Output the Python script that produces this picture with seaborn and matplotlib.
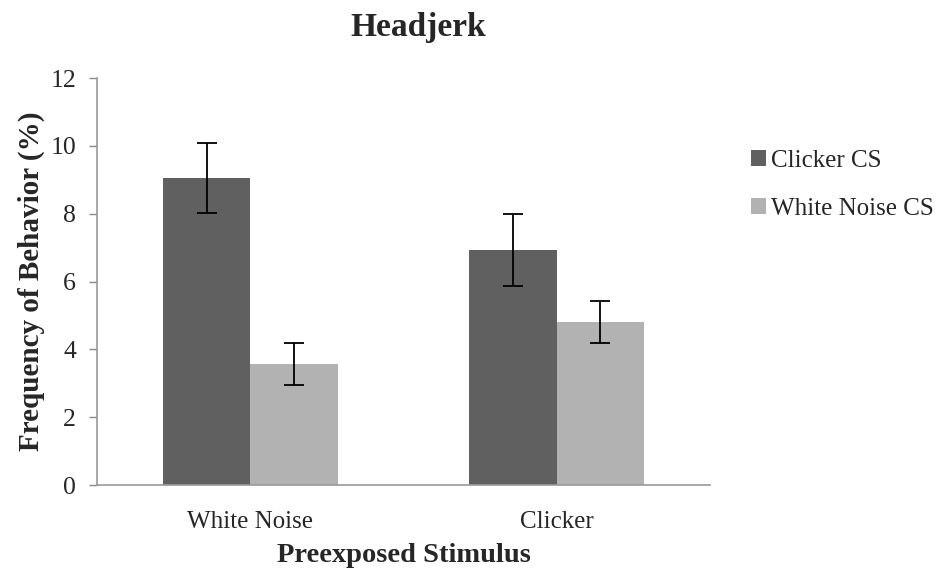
import matplotlib
matplotlib.use("Agg")
import matplotlib.pyplot as plt
import seaborn as sns
import pandas as pd
import numpy as np

categories = ["White Noise", "Clicker"]
series = ["Clicker CS", "White Noise CS"]
clicker_cs = [9.05, 6.93]
white_noise_cs = [3.58, 4.82]
clicker_cs_err = [1.03, 1.07]
white_noise_cs_err = [0.62, 0.62]
yticks = [0, 2, 4, 6, 8, 10, 12]

sns.set_style("white")
plt.rcParams['font.family'] = ['Liberation Serif', 'DejaVu Serif']

df = pd.DataFrame({
    "stim": categories * 2,
    "cs": [series[0]] * 2 + [series[1]] * 2,
    "val": clicker_cs + white_noise_cs,
})

fig = plt.figure(figsize=(9.48, 5.75), dpi=100)
ax = fig.add_axes([0.1023, 0.1565, 0.6467, 0.7078])
colors = {"Clicker CS": "#606060", "White Noise CS": "#b2b2b2"}
sns.barplot(data=df, x="stim", y="val", hue="cs", order=categories, hue_order=series,
            palette=colors, width=0.57, errorbar=None, ax=ax, saturation=1, linewidth=0)

for container, s in zip(ax.containers, series):
    e = clicker_cs_err if s == series[0] else white_noise_cs_err
    for bar, err in zip(container, e):
        xc = bar.get_x() + bar.get_width() / 2
        ax.errorbar(xc, bar.get_height(), yerr=err, fmt="none", ecolor="black",
                    elinewidth=1.3, capsize=7, capthick=1.3)

ax.set_ylim(0, 12)
ax.set_xlim(-0.5, 1.5)
ax.set_yticks(yticks)
ax.set_yticklabels([str(t) for t in yticks], fontsize=18.5)
ax.tick_params(axis="y", direction="out", length=6, color="#888888", width=1, pad=9, left=True)
ax.tick_params(axis="x", length=0, labelsize=18, pad=19)
for side in ["top", "right"]:
    ax.spines[side].set_visible(False)
for side in ["left", "bottom"]:
    ax.spines[side].set_color("#999999")
    ax.spines[side].set_linewidth(1.2)

ax.set_xlabel("Preexposed Stimulus", fontsize=20.5, fontweight="bold", labelpad=7)
ax.set_ylabel("Frequency of Behavior (%)", fontsize=21, fontweight="bold", labelpad=4)
fig.text(0.441, 0.952, "Headjerk", ha="center", va="center", fontsize=24, fontweight="bold")

leg = ax.legend(loc="upper left", bbox_to_anchor=(1.05, 0.848), frameon=False, fontsize=18,
                handlelength=0.6, handleheight=0.6, handletextpad=0.2, labelspacing=1.05,
                borderaxespad=0)

fig.savefig("out.png", dpi=100)
